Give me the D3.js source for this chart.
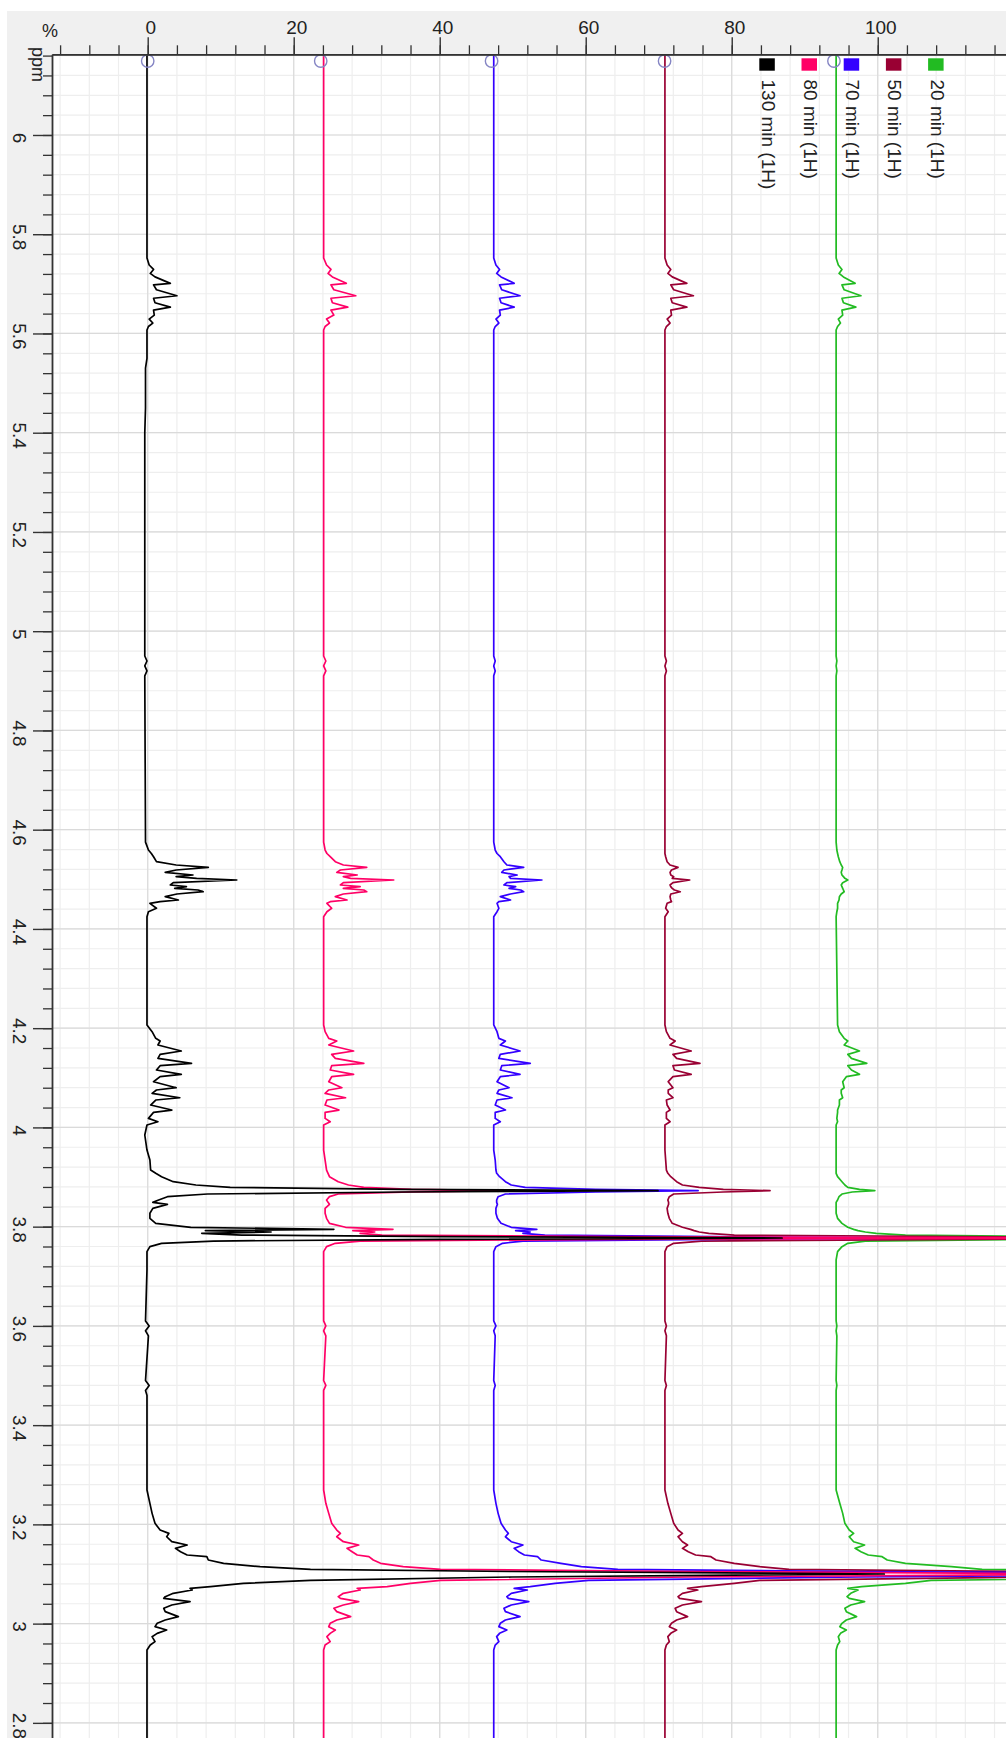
<!DOCTYPE html>
<html>
<head>
<meta charset="utf-8">
<script src="https://cdn.jsdelivr.net/npm/d3@7"></script>
<style>
body { margin: 0; background: #fff; }
svg { display: block; }
text { font-family: "Liberation Sans", Arial, sans-serif; fill: #222; }
</style>
</head>
<body>
<svg id="chart"></svg>
<script>
// chemical shift positions (ppm) shared by every trace, top to bottom
var ppmGrid = [
  6.20, 5.76,
  // 5.7 multiplet
  5.752, 5.738, 5.729, 5.721, 5.714, 5.701, 5.698, 5.688, 5.676, 5.671, 5.662, 5.653, 5.647, 5.637, 5.629, 5.621, 5.614, 5.607,
  // weak stuff 5.5
  5.55, 5.53, 5.45, 5.40,
  // weak stuff 4.93
  4.95, 4.94, 4.93, 4.92, 4.91,
  // 4.5 multiplet
  4.575, 4.559, 4.552, 4.5455, 4.5355, 4.5288, 4.5241, 4.5187, 4.514, 4.5087, 4.5053, 4.502, 4.4986, 4.4932, 4.4885, 4.4852, 4.4818, 4.4784, 4.475, 4.4704, 4.465, 4.4583, 4.455, 4.4516, 4.4416, 4.4347, 4.4247,
  // 4.2 multiplet
  4.2064, 4.1929, 4.1795, 4.1741, 4.1661, 4.154, 4.1473, 4.1392, 4.1291, 4.1244, 4.1157, 4.107, 4.1022, 4.0921, 4.08, 4.0754, 4.0687, 4.0598, 4.0552, 4.0451, 4.035, 4.0303, 4.0182, 4.0115, 4.0048, 3.9847,
  // 3.87 and 3.78 peaks
  3.9544, 3.9343, 3.9141, 3.9075, 3.9007, 3.8906, 3.8839, 3.8793, 3.8753, 3.8725, 3.8698, 3.8658, 3.8604, 3.8537, 3.849, 3.845, 3.8369, 3.8269, 3.8168, 3.8067, 3.7987, 3.7946, 3.7919, 3.7892, 3.7865, 3.7831, 3.7798, 3.7771, 3.7745, 3.771, 3.7664, 3.7597, 3.7496, 3.7329, 3.7127,
  // weak stuff 3.6 / 3.48
  3.61, 3.60, 3.59, 3.58, 3.49, 3.48, 3.47, 3.46,
  // 3.1 multiplet
  3.2693, 3.2424, 3.2222, 3.2021, 3.1886, 3.1819, 3.1751, 3.1651, 3.1584, 3.1517, 3.145, 3.1383, 3.1349, 3.1282, 3.1215, 3.1147, 3.1094, 3.105, 3.100, 3.094, 3.087, 3.0812, 3.0745, 3.0711, 3.0677, 3.0611, 3.0543, 3.051, 3.0443, 3.0376, 3.0309, 3.0241, 3.0141, 3.0073, 3.0006, 2.9939, 2.9871, 2.9804, 2.9737, 2.9637, 2.9569, 2.9469,
  2.70
];

// intensity (%) above each trace's own baseline
var s130 = [
  0, 0,
  0, 0.3, 0.9, 0.45, 1.1, 3.2, 0.9, 1.3, 4.1, 0.9, 1.1, 3.2, 0.9, 1.0, 0.3, 0.8, 0.2, 0,
  0, -0.2, -0.2, -0.3,
  -0.3, 0, -0.3, 0, -0.3,
  -0.2, 0.2, 0.6, 0.9, 1.3, 4.0, 8.4, 4.0, 2.5, 6.3, 4.0, 6.8, 12.3, 3.6, 3.2, 5.4, 3.8, 7.0, 7.7, 4.1, 2.5, 4.3, 1.8, 0.4, 1.3, 0.2, 0,
  0, 0.7, 1.2, 1.8, 1.5, 4.7, 1.8, 1.5, 6.1, 1.8, 1.3, 4.7, 1.8, 0.9, 4.0, 1.3, 0.7, 4.5, 1.2, 0.5, 3.4, 0.9, 0.2, 1.5, 0, -0.3,
  0, 0.4, 0.5, 1.2, 2.0, 3.6, 6.7, 11.4, 35, 70, 35, 8.3, 2.8, 1.6, 0.8, 2.8, 0.8, 0.4, 0.4, 1.2, 6, 25.6, 8, 17, 7.5, 13, 40, 87, 40, 9.1, 2.0, 0.4, 0, 0, 0,
  -0.2, 0.3, -0.2, 0.2, -0.2, 0.3, -0.2, 0,
  0, 0.4, 0.7, 1.1, 1.8, 3.0, 2.7, 3.4, 5.5, 3.9, 4.6, 5.5, 8.2, 8.4, 10.5, 15.5, 22.4, 50, 101, 50, 22.4, 13.2, 8.7, 5.9, 6.2, 3.6, 2.5, 2.3, 5.9, 3.4, 2.3, 2.5, 4.3, 2.5, 1.4, 1.1, 2.7, 1.4, 0.7, 1.1, 0.45, 0,
  0
];
var s80 = [
  0, 0,
  0, 0.4, 1.0, 0.6, 1.2, 3.1, 1.0, 1.4, 4.4, 1.0, 1.2, 3.3, 1.0, 1.4, 0.4, 0.8, 0.2, 0,
  0, 0, 0, 0,
  0, 0.3, 0, 0.3, 0,
  0, 0.2, 0.45, 0.9, 1.6, 2.7, 5.9, 2.3, 1.8, 4.6, 2.7, 3.7, 9.6, 2.7, 2.3, 5.0, 2.7, 5.5, 5.9, 2.7, 1.6, 3.2, 0.9, 0.45, 1.1, 0.45, 0,
  0, 0.2, 0.7, 1.8, 0.7, 4.1, 1.1, 1.6, 5.5, 1.1, 0.9, 4.1, 1.1, 0.7, 2.5, 0.7, 0.2, 3.0, 0.45, 0.2, 2.1, 0.2, 0.2, 0.9, 0, 0,
  0, 0.2, 0.4, 0.6, 0.8, 2.0, 3.4, 5.5, 12, 25, 12, 2.0, 0.8, 0.4, 0.6, 0.8, 0.2, 0.2, 0.4, 0.8, 3.0, 9.5, 4.0, 7.0, 5.0, 8.0, 40, 110, 40, 5.0, 1.6, 0.4, 0, 0, 0,
  0, 0.3, 0, 0.3, 0, 0.3, 0, 0,
  0, 0.3, 0.7, 1.1, 1.8, 2.3, 1.8, 2.7, 4.8, 3.2, 3.9, 4.6, 6.2, 6.8, 7.8, 10.9, 16, 50, 110, 50, 16, 11.9, 8.7, 4.6, 5.0, 2.7, 2.0, 2.3, 4.8, 2.7, 1.4, 1.8, 3.7, 1.8, 0.9, 0.7, 1.6, 0.9, 0.45, 0.9, 0.2, 0,
  0
];
var s70 = [
  0, 0,
  0, 0.3, 0.8, 0.4, 1.0, 2.8, 0.8, 1.1, 3.6, 0.8, 1.0, 2.8, 0.8, 0.9, 0.3, 0.7, 0.2, 0,
  0, 0, 0, 0,
  0, 0.2, 0, 0.2, 0,
  0, 0.2, 0.45, 0.9, 1.4, 1.8, 4.1, 1.4, 1.1, 3.2, 2.1, 2.3, 6.6, 1.8, 1.4, 3.0, 2.1, 3.7, 4.1, 2.3, 0.9, 2.3, 0.7, 0.45, 0.7, 0.45, 0,
  0, 0.45, 0.7, 1.6, 0.9, 3.6, 0.9, 0.7, 5.0, 1.1, 0.9, 3.6, 0.9, 0.45, 2.1, 0.7, 0.45, 2.5, 0.45, 0.2, 1.6, 0.2, 0.2, 0.9, 0, 0,
  0, 0.2, 0.3, 0.4, 0.8, 1.6, 2.4, 4.3, 14, 28, 14, 1.6, 0.6, 0.4, 0.4, 0.5, 0.3, 0.3, 0.5, 1.0, 2.4, 5.9, 3.0, 5.0, 4.0, 7.0, 30, 60, 30, 4.0, 1.2, 0.3, 0, 0, 0,
  0, 0.3, 0, 0.2, 0, 0.2, 0, 0,
  0, 0.3, 0.6, 1.0, 1.6, 2.0, 1.6, 2.4, 4.0, 2.8, 3.4, 4.2, 6.0, 6.5, 9.2, 12, 17, 50, 110, 50, 13, 8.4, 5.0, 2.8, 4.6, 2.4, 1.8, 2.0, 4.8, 2.4, 1.4, 1.6, 3.6, 1.6, 0.9, 0.7, 1.8, 0.8, 0.4, 0.7, 0.2, 0,
  0
];
var s50 = [
  0, 0,
  0, 0.3, 0.8, 0.4, 1.0, 3.0, 0.8, 1.2, 3.9, 0.8, 1.0, 3.0, 0.8, 0.9, 0.3, 0.7, 0.2, 0,
  0, 0, 0, 0,
  0, 0.2, 0, 0.2, 0,
  0, 0, 0, 0.1, 0.3, 0.7, 1.8, 0.9, 0.7, 0.8, 1.2, 1.0, 3.4, 1.1, 0.7, 0.8, 1.0, 1.3, 2.1, 0.8, 0.7, 0.8, 0.9, 0.3, 0.1, 0.45, 0,
  0, 0.2, 0.7, 1.4, 0.7, 3.6, 1.1, 1.6, 4.8, 1.1, 1.3, 3.6, 1.1, 0.45, 1.1, 0.45, 0.45, 1.1, 0.2, 0.3, 0.7, 0.2, 0.2, 0.7, 0, 0,
  0, 0.1, 0.2, 0.4, 0.8, 1.6, 2.4, 4.7, 8, 14.4, 8, 1.2, 0.6, 0.4, 0.5, 0.5, 0.3, 0.4, 0.6, 1.0, 2.4, 3.5, 4.0, 4.7, 6, 9.5, 40, 110, 40, 5, 1.2, 0.3, 0, 0, 0,
  0, 0.2, 0, 0.2, 0, 0.2, 0, 0,
  0, 0.4, 0.8, 1.2, 1.8, 2.4, 1.8, 2.4, 3.1, 2.4, 3.2, 4.2, 6.3, 7.0, 9.5, 13, 17, 50, 110, 50, 13, 9.5, 5.0, 3.1, 4.5, 2.4, 1.8, 2.0, 5.0, 2.4, 1.4, 1.6, 3.1, 1.6, 0.9, 0.6, 1.6, 0.8, 0.4, 0.6, 0.2, 0,
  0
];
var s20 = [
  0, 0,
  0, 0.3, 0.8, 0.4, 1.0, 2.6, 0.8, 1.1, 3.4, 0.8, 1.0, 2.7, 0.8, 0.9, 0.3, 0.6, 0.2, 0,
  0, 0, 0, 0,
  0, 0.1, 0, 0.1, 0,
  0, 0.1, 0.2, 0.3, 0.5, 0.7, 0.9, 0.8, 0.7, 0.8, 1.0, 1.2, 1.6, 0.9, 0.7, 0.8, 0.9, 1.0, 1.1, 0.7, 0.45, 0.4, 0.3, 0.2, 0.2, 0.1, 0,
  0.2, 0.45, 1.1, 1.6, 1.1, 3.2, 1.6, 2.1, 4.2, 1.6, 2.1, 3.2, 1.4, 0.9, 1.1, 0.7, 0.7, 0.9, 0.45, 0.45, 0.2, 0.2, 0.1, 0.2, 0, 0,
  0, 0, 0, 0, 0.2, 0.8, 1.2, 1.6, 3.2, 5.3, 2.2, 0.8, 0.4, 0.2, 0, 0, 0, 0, 0.2, 0.8, 1.6, 2.4, 3.0, 4.0, 5.5, 9.5, 30, 110, 30, 4.0, 1.6, 0.8, 0.2, 0, 0,
  0, 0.1, 0, 0.1, 0, 0.1, 0, 0,
  0, 0.5, 0.9, 1.2, 1.8, 2.4, 1.8, 2.4, 3.9, 2.6, 3.4, 4.4, 6.3, 7.0, 9.5, 15.8, 20, 50, 110, 50, 13, 9.5, 3.5, 1.6, 3.0, 2.0, 1.5, 1.8, 3.9, 2.0, 1.2, 1.4, 2.8, 1.4, 0.8, 0.5, 1.4, 0.6, 0.3, 0.5, 0.2, 0,
  0
];

var seriesNames = ["130 min (1H)", "80 min (1H)", "70 min (1H)", "50 min (1H)", "20 min (1H)"];
var seriesValues = [s130, s80, s70, s50, s20];
var seriesColors = ["#000000", "#ff0066", "#3300ff", "#990033", "#22bb22"];
var baselines = [-0.1, 24.1, 47.4, 70.85, 94.3];   // stacking offset, %
var markerAt = [0, 23.7, 47.1, 70.8, 94.0];        // little circles at the top

var pctTicks = [0, 20, 40, 60, 80, 100];
var ppmTicks = [6, 5.8, 5.6, 5.4, 5.2, 5, 4.8, 4.6, 4.4, 4.2, 4, 3.8, 3.6, 3.4, 3.2, 3, 2.8];

var svgWidth = 1006, svgHeight = 1738;
var plot = { left: 52, top: 54.3, right: 1006, bottom: 1738 };

var svg = d3.select("#chart")
    .attr("width", svgWidth)
    .attr("height", svgHeight);

var x = d3.scaleLinear().domain([-13.11, 117.57]).range([plot.left, plot.right]);
var y = d3.scaleLinear().domain([6.1626, 2.7695]).range([plot.top, plot.bottom]);

var minorPct = d3.range(-3, 30).map(function(i) { return i * 4; });
var minorPpm = d3.range(0, 85).map(function(i) { return +(2.8 + i * 0.04).toFixed(2); });

// grey frame + white plot area
svg.append("rect").attr("x", 7).attr("y", 11)
    .attr("width", svgWidth - 7).attr("height", svgHeight - 11).attr("fill", "#f0f0f0");
svg.append("rect").attr("x", plot.left).attr("y", plot.top)
    .attr("width", plot.right - plot.left).attr("height", plot.bottom - plot.top).attr("fill", "#fff");

svg.append("clipPath").attr("id", "clip")
  .append("rect").attr("x", plot.left).attr("y", plot.top)
    .attr("width", plot.right - plot.left).attr("height", plot.bottom - plot.top);

var grid = svg.append("g").attr("clip-path", "url(#clip)");

grid.selectAll(".vmin").data(minorPct).enter().append("line")
    .attr("x1", function(d) { return x(d); }).attr("x2", function(d) { return x(d); })
    .attr("y1", plot.top).attr("y2", plot.bottom)
    .attr("stroke", "#eeeeee").attr("stroke-width", 1.2);
grid.selectAll(".hmin").data(minorPpm).enter().append("line")
    .attr("y1", function(d) { return y(d); }).attr("y2", function(d) { return y(d); })
    .attr("x1", plot.left).attr("x2", plot.right)
    .attr("stroke", "#eeeeee").attr("stroke-width", 1.2);
grid.selectAll(".vmaj").data(pctTicks).enter().append("line")
    .attr("x1", function(d) { return x(d); }).attr("x2", function(d) { return x(d); })
    .attr("y1", plot.top).attr("y2", plot.bottom)
    .attr("stroke", "#dadada").attr("stroke-width", 1.2);
grid.selectAll(".hmaj").data(ppmTicks).enter().append("line")
    .attr("y1", function(d) { return y(d); }).attr("y2", function(d) { return y(d); })
    .attr("x1", plot.left).attr("x2", plot.right)
    .attr("stroke", "#dadada").attr("stroke-width", 1.2);

// spectra
var traces = svg.append("g").attr("clip-path", "url(#clip)");
var order = [4, 3, 2, 1, 0];
order.forEach(function(k) {
  var vals = seriesValues[k];
  var pts = ppmGrid.map(function(p, i) { return [p, vals[i]]; })
      .filter(function(d) { return d[1] !== undefined; });
  var line = d3.line()
      .x(function(d) { return x(baselines[k] + d[1]); })
      .y(function(d) { return y(d[0]); });
  traces.append("path")
      .datum(pts)
      .attr("fill", "none")
      .attr("stroke", seriesColors[k])
      .attr("stroke-width", 1.7)
      .attr("stroke-linejoin", "round")
      .attr("d", line);
});

traces.selectAll(".marker").data(markerAt).enter().append("circle")
    .attr("cx", function(d) { return x(d); })
    .attr("cy", 61)
    .attr("r", 6.2)
    .attr("fill", "none")
    .attr("stroke", "#8585c4")
    .attr("stroke-width", 1.4);

// top axis (%)
svg.append("g")
    .attr("transform", "translate(0," + plot.top + ")")
    .attr("color", "#333")
    .call(d3.axisTop(x).tickValues(minorPct.filter(function(d) { return d > -13.11; }))
      .tickSize(9).tickSizeOuter(0).tickFormat(""))
    .selectAll("line").attr("stroke-width", 1.3);

var topAxis = svg.append("g")
    .attr("transform", "translate(0," + plot.top + ")")
    .attr("color", "#333")
    .call(d3.axisTop(x).tickValues(pctTicks).tickSize(17).tickSizeOuter(0).tickFormat(d3.format("d")));
topAxis.select(".domain").attr("stroke-width", 1.8);
topAxis.selectAll("line").attr("stroke-width", 1.4);
topAxis.selectAll("text")
    .attr("font-size", 19)
    .attr("font-family", "Liberation Sans, Arial, sans-serif")
    .attr("fill", "#333")
    .attr("dx", 2.5);

// left axis (ppm)
svg.append("g")
    .attr("transform", "translate(" + plot.left + ",0)")
    .attr("color", "#333")
    .call(d3.axisLeft(y).tickValues(minorPpm).tickSize(9).tickSizeOuter(0).tickFormat(""))
    .selectAll("line").attr("stroke-width", 1.3);

var leftAxis = svg.append("g")
    .attr("transform", "translate(" + plot.left + ",0)")
    .attr("color", "#333")
    .call(d3.axisLeft(y).tickValues(ppmTicks).tickSize(19).tickSizeOuter(0).tickFormat(""));
leftAxis.select(".domain").attr("stroke-width", 1.8);
leftAxis.selectAll("line").attr("stroke-width", 1.4);

svg.append("g").selectAll("text").data(ppmTicks).enter().append("text")
    .attr("transform", function(d) { return "translate(13," + (y(d) + 3) + ") rotate(90)"; })
    .attr("text-anchor", "middle")
    .attr("font-size", 19)
    .attr("fill", "#333")
    .text(function(d) { return String(d); });

// axis units
svg.append("text")
    .attr("x", 50).attr("y", 37)
    .attr("text-anchor", "middle")
    .attr("font-size", 18)
    .attr("fill", "#333")
    .text("%");
svg.append("text")
    .attr("transform", "translate(32,47) rotate(90)")
    .attr("font-size", 18)
    .attr("fill", "#333")
    .text("ppm");

// legend
var legend = svg.append("g");
seriesNames.forEach(function(name, i) {
  var lx = 759.3 + i * 42.2;
  legend.append("rect")
      .attr("x", lx).attr("y", 58.3)
      .attr("width", 15.5).attr("height", 12.4)
      .attr("fill", seriesColors[i]);
  legend.append("text")
      .attr("transform", "translate(" + (lx + 2.5) + ",79.5) rotate(90)")
      .attr("font-size", 19)
      .attr("fill", "#222")
      .text(name);
});
</script>
</body>
</html>
